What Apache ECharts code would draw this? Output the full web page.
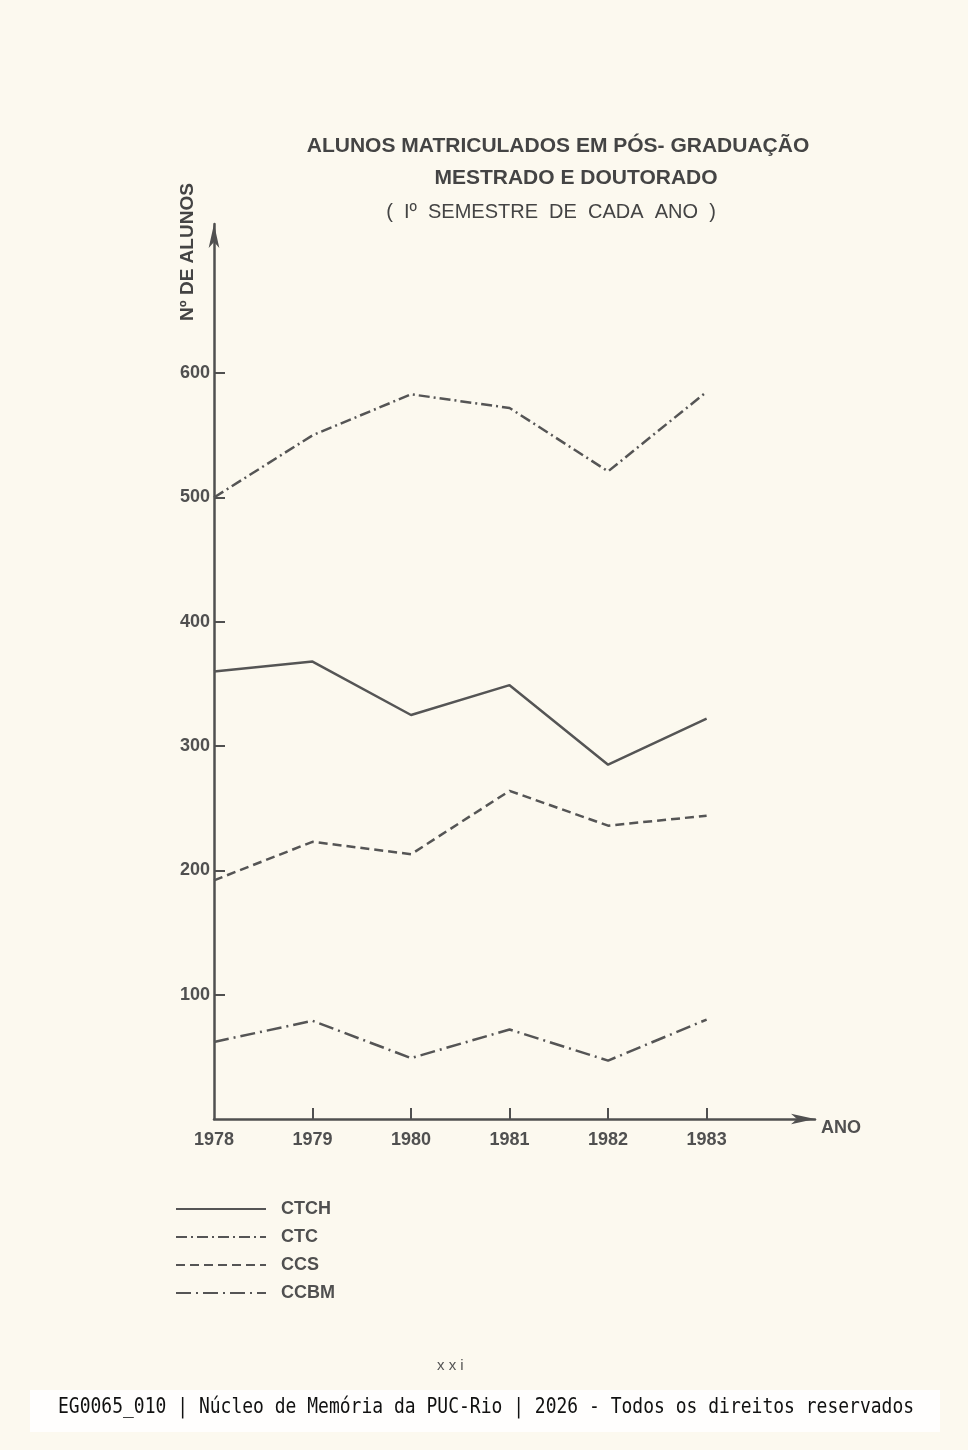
<!DOCTYPE html>
<html><head><meta charset="utf-8">
<script src="https://cdn.jsdelivr.net/npm/echarts@6/dist/echarts.min.js"></script>
<style>html,body{margin:0;padding:0;background:#fcf9ef}#c{width:968px;height:1450px}</style>
</head><body><div id="c"></div>
<script>
const years = [1978, 1979, 1980, 1981, 1982, 1983];
const seriesNames = ['CTCH', 'CTC', 'CCS', 'CCBM'];
const ctch = [360, 368, 325, 349, 285, 322];
const ctc = [500, 550, 583, 572, 521, 585];
const ccs = [192, 223, 213, 264, 236, 244];
const ccbm = [62, 79, 49, 72, 47, 80];
const yTicks = [100, 200, 300, 400, 500, 600];
const xTicks = [1979, 1980, 1981, 1982, 1983];

const ink = '#505050';
const font = '"Liberation Sans", Arial, sans-serif';
const pairs = v => years.map((y, i) => [y, v[i]]);
const dashes = [null, [11, 4, 2, 4], [9, 5], [15, 5, 2, 5]];
const values = [ctch, ctc, ccs, ccbm];

const chart = echarts.init(document.getElementById('c'));
chart.setOption({
  backgroundColor: '#fcf9ef',
  animation: false,
  title: [
    {text: 'ALUNOS MATRICULADOS EM PÓS- GRADUAÇÃO', left: 553, top: 131, textAlign: 'center',
     textStyle: {fontFamily: font, fontSize: 21, fontWeight: 'bold', color: '#444'}},
    {text: 'MESTRADO E DOUTORADO', left: 571, top: 163, textAlign: 'center',
     textStyle: {fontFamily: font, fontSize: 21, fontWeight: 'bold', color: '#444'}},
    {text: '(  Iº  SEMESTRE  DE  CADA  ANO  )', left: 546, top: 197, textAlign: 'center',
     textStyle: {fontFamily: font, fontSize: 20, fontWeight: 'normal', color: '#444'}}
  ],
  grid: {left: 214, right: 153, top: 224, bottom: 331},
  xAxis: {
    type: 'value', min: 1978, max: 1984.1, interval: 1,
    name: 'ANO', nameLocation: 'end', nameGap: 6,
    nameTextStyle: {fontFamily: font, fontSize: 18, fontWeight: 'bold', color: ink, verticalAlign: 'top'},
    axisLine: {show: true, lineStyle: {color: ink, width: 2.5}, symbol: ['none', 'arrow'], symbolSize: [8, 24]},
    axisTick: {show: true, inside: true, length: 11, lineStyle: {color: ink, width: 2}, customValues: xTicks},
    axisLabel: {customValues: years, formatter: v => String(v), margin: 12,
      fontFamily: font, fontSize: 18, fontWeight: 'bold', color: ink},
    splitLine: {show: false}
  },
  yAxis: {
    type: 'value', min: 0, max: 720, interval: 100,
    axisLine: {show: true, lineStyle: {color: ink, width: 2.5}, symbol: ['none', 'arrow'], symbolSize: [8, 24]},
    axisTick: {show: true, inside: true, length: 11, lineStyle: {color: ink, width: 2}, customValues: yTicks},
    axisLabel: {customValues: yTicks, margin: 4,
      fontFamily: font, fontSize: 18, fontWeight: 'bold', color: ink},
    splitLine: {show: false}
  },
  legend: {
    orient: 'vertical', left: 175, top: 1200, padding: 0, itemWidth: 90, itemHeight: 14, itemGap: 10,
    data: seriesNames,
    itemStyle: {color: 'transparent', borderColor: 'transparent', borderWidth: 0, opacity: 0},
    textStyle: {fontFamily: font, fontSize: 18, fontWeight: 'bold', color: ink, lineHeight: 14, padding: [0, 0, 0, 10]}
  },
  graphic: [
    {type: 'text', rotation: Math.PI / 2, x: 178, y: 321,
     style: {text: 'Nº DE ALUNOS', fontFamily: font, fontSize: 19, fontWeight: 'bold', fill: '#444'}},
    {type: 'text', x: 437, y: 1358, style: {text: 'x x i', fontFamily: font, fontSize: 15, fill: '#555'}},
    {type: 'rect', shape: {x: 30, y: 1390, width: 910, height: 42}, style: {fill: 'rgba(255,255,255,0.85)'}},
    {type: 'text', x: 58, y: 1397, scaleY: 1.2,
     style: {text: 'EG0065_010 | Núcleo de Memória da PUC-Rio | 2026 - Todos os direitos reservados',
      fontFamily: '"DejaVu Sans Mono", monospace', fontSize: 18, fill: '#111'}}
  ],
  series: seriesNames.map((n, i) => ({
    name: n, type: 'line', data: pairs(values[i]), symbol: 'none',
    lineStyle: {color: '#555', width: 2.5, type: dashes[i] || 'solid'},
    itemStyle: {color: '#555'}
  }))
});
</script></body></html>
